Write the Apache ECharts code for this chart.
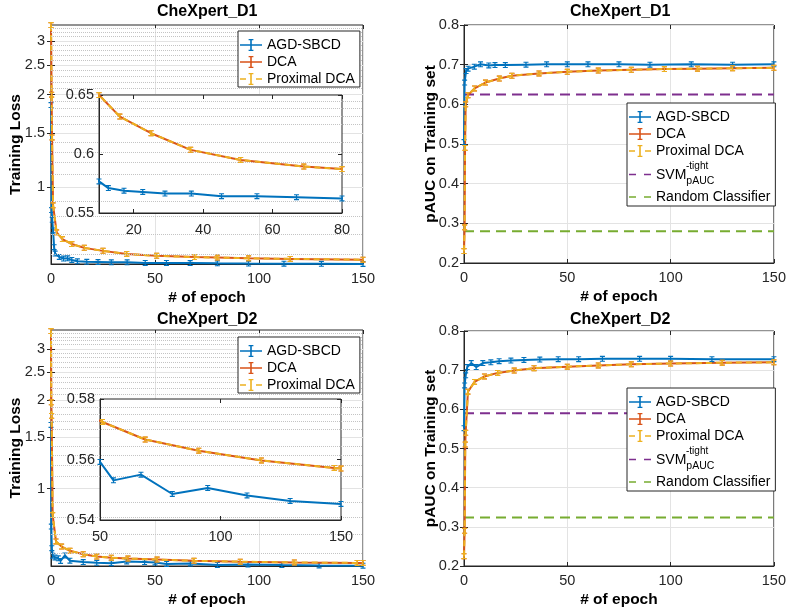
<!DOCTYPE html>
<html><head><meta charset="utf-8">
<script src="https://cdn.jsdelivr.net/npm/echarts@6/dist/echarts.min.js"></script>
<style>html,body{margin:0;padding:0;background:#fff}#c{width:789px;height:609px}</style>
</head><body><div id="c"></div>
<script>
// ---------- Titles / labels ----------
const titles = ['CheXpert_D1', 'CheXpert_D1', 'CheXpert_D2', 'CheXpert_D2'];
const seriesNames = ['AGD-SBCD', 'DCA', 'Proximal DCA', 'SVM', 'Random Classifier'];

// ---------- Training loss, CheXpert_D1 ----------
const agdEpochLossD1 = [0, 0.3, 0.6, 1, 1.5, 2, 4, 6, 8, 10, 12.7, 17.2, 22.6, 29, 36.6, 45.3, 55.5, 66.9, 80, 95, 112, 130, 150];
const agdLossD1 = [1.85, 0.84, 0.78, 0.72, 0.635, 0.605, 0.59, 0.583, 0.584, 0.5768, 0.5711, 0.5689, 0.5679, 0.5665, 0.5665, 0.5642, 0.5642, 0.5634, 0.5623, 0.5615, 0.5608, 0.5603, 0.5598];
const dcaEpochLossD1 = [0, 0.3, 0.5, 1, 2.7, 5.5, 10, 16, 25, 36.4, 50.8, 69, 80, 95, 115, 150];
const dcaLossD1 = [3.38, 2.0, 1.45, 0.87, 0.71, 0.675, 0.65, 0.6317, 0.6176, 0.6035, 0.595, 0.5894, 0.5872, 0.584, 0.5815, 0.578];
const proxLossD1 = [3.38, 2.0, 1.45, 0.87, 0.71, 0.675, 0.65, 0.6317, 0.6176, 0.6035, 0.595, 0.5894, 0.5872, 0.584, 0.5815, 0.578];

// ---------- Training loss, CheXpert_D2 ----------
const agdEpochLossD2 = [0, 0.15, 0.4, 0.8, 1.9, 3.5, 4.6, 6.7, 9.1, 15.5, 22, 29, 36.4, 45, 50, 55.6, 67, 80, 94.7, 111, 128.9, 150];
const agdLossD2 = [1.65, 0.742, 0.626, 0.59, 0.582, 0.578, 0.566, 0.591, 0.567, 0.561, 0.558, 0.556, 0.564, 0.561, 0.5592, 0.5531, 0.555, 0.5486, 0.5506, 0.5481, 0.5463, 0.5453];
const dcaEpochLossD2 = [0, 0.15, 0.3, 0.8, 2.4, 5.1, 9.1, 15.5, 22, 29, 37, 51, 68.75, 91, 117, 147.2, 150];
const dcaLossD2 = [3.45, 1.97, 1.77, 0.812, 0.66, 0.634, 0.613, 0.597, 0.586, 0.581, 0.577, 0.5724, 0.5666, 0.5629, 0.5597, 0.5572, 0.557];
const proxLossD2 = [3.45, 1.97, 1.77, 0.812, 0.66, 0.634, 0.613, 0.597, 0.586, 0.581, 0.577, 0.5724, 0.5666, 0.5629, 0.5597, 0.5572, 0.557];

// ---------- pAUC on training set, CheXpert_D1 ----------
const agdEpochAucD1 = [0, 0.3, 1, 2, 5, 8, 12, 15, 20, 30, 40, 50, 60, 75, 90, 110, 130, 150];
const agdAucD1 = [0.505, 0.655, 0.684, 0.69, 0.695, 0.701, 0.698, 0.699, 0.699, 0.700, 0.701, 0.701, 0.701, 0.701, 0.700, 0.701, 0.700, 0.701];
const dcaEpochAucD1 = [0, 0.3, 0.5, 0.8, 1.9, 5.1, 10.4, 17.1, 23.2, 36.3, 50, 65, 81, 97, 113, 130, 150];
const dcaAucD1 = [0.23, 0.29, 0.49, 0.60, 0.623, 0.64, 0.655, 0.665, 0.672, 0.678, 0.682, 0.685, 0.687, 0.689, 0.690, 0.691, 0.692];
const proxAucD1 = [0.23, 0.29, 0.49, 0.60, 0.623, 0.64, 0.655, 0.665, 0.672, 0.678, 0.682, 0.685, 0.687, 0.689, 0.690, 0.691, 0.692];
const svmAucD1 = 0.625;
const randAucD1 = 0.28;

// ---------- pAUC on training set, CheXpert_D2 ----------
const agdEpochAucD2 = [0, 0.3, 0.8, 1.6, 3.5, 5.9, 9.1, 13, 17, 22.7, 29, 36.7, 45.6, 55.5, 67, 85, 100, 120, 150];
const agdAucD2 = [0.552, 0.661, 0.687, 0.708, 0.718, 0.708, 0.718, 0.720, 0.723, 0.7246, 0.726, 0.727, 0.728, 0.728, 0.729, 0.729, 0.729, 0.728, 0.728];
const dcaEpochAucD2 = [0, 0.3, 0.6, 0.8, 1.9, 5.1, 9.9, 16.3, 24.3, 33.9, 50, 65, 81, 100, 125, 150];
const dcaAucD2 = [0.225, 0.29, 0.51, 0.54, 0.645, 0.67, 0.684, 0.693, 0.699, 0.705, 0.709, 0.712, 0.715, 0.717, 0.719, 0.72];
const proxAucD2 = [0.225, 0.29, 0.51, 0.54, 0.645, 0.67, 0.684, 0.693, 0.699, 0.705, 0.709, 0.712, 0.715, 0.717, 0.719, 0.72];
const svmAucD2 = 0.59;
const randAucD2 = 0.324;

// ---------- Axis ticks ----------
const lossTicks = [1, 1.5, 2, 2.5, 3];
const lossMinorD1 = [0.6, 0.7, 0.8, 0.9, 1.1, 1.2, 1.3, 1.4, 1.6, 1.7, 1.8, 1.9, 2.1, 2.2, 2.3, 2.4, 2.6, 2.7, 2.8, 2.9, 3.1, 3.2, 3.3];
const lossMinorD2 = [0.6, 0.7, 0.8, 0.9, 1.1, 1.2, 1.3, 1.4, 1.6, 1.7, 1.8, 1.9, 2.1, 2.2, 2.3, 2.4, 2.6, 2.7, 2.8, 2.9, 3.1, 3.2, 3.3, 3.4];
const insetD1Ticks = [20, 40, 60, 80];
const epochRange = [0, 150];

// ---------- Styling ----------
const COL = {agd: '#0072BD', dca: '#D95319', prox: '#EDB120', svm: '#7E2F8E', rand: '#77AC30'};
const AX = '#262626';
const FONT = 'Liberation Sans';
const MARK = 'path://M0,0H6V1.5H3.75V6.5H6V8H0V6.5H2.25V1.5H0Z';
const ICON_ERR = 'path://M0,5.2H22V6.8H0Z M10.2,0H11.8V12H10.2Z M8.6,0H13.4V1.3H8.6Z M8.6,10.7H13.4V12H8.6Z';
const ICON_ERR_DASH = 'path://M0,5.2H6V6.8H0Z M16,5.2H22V6.8H16Z M10.2,0H11.8V12H10.2Z M8.6,0H13.4V1.3H8.6Z M8.6,10.7H13.4V12H8.6Z';
const ICON_DASH = 'path://M0,5.2H7V6.8H0Z M15,5.2H22V6.8H15Z';

function pairs(xs, ys) { return xs.map((x, i) => [x, ys[i]]); }

function curve(name, xs, ys, color, idx, dashed, z) {
  return {
    type: 'line', name, xAxisIndex: idx, yAxisIndex: idx, data: pairs(xs, ys),
    symbol: MARK, symbolSize: [5, 6], showSymbol: true, showAllSymbol: true,
    itemStyle: {color}, lineStyle: {color, width: 2, type: dashed ? [6, 4] : 'solid'},
    z, animation: false, clip: true, silent: true
  };
}
function hline(name, value, color, idx) {
  return {
    type: 'line', name, xAxisIndex: idx, yAxisIndex: idx,
    data: [[epochRange[0], value], [epochRange[1], value]],
    symbol: 'none', itemStyle: {color}, lineStyle: {color, width: 2, type: [10, 6]},
    z: 2, animation: false, silent: true
  };
}
function minorGrid(idx, vals) {
  return {
    type: 'line', name: '_minor' + idx, xAxisIndex: idx, yAxisIndex: idx, data: [],
    z: 1, silent: true, animation: false,
    markLine: {silent: true, symbol: 'none', animation: false, label: {show: false},
      lineStyle: {type: 'dotted', color: '#c4c4c4', width: 1},
      data: vals.map(v => ({yAxis: v}))}
  };
}

const labelStyle = {color: AX, fontSize: 14.5, fontFamily: FONT};
const nameStyle = {color: '#000', fontSize: 15.5, fontWeight: 'bold', fontFamily: FONT};
const gridLine = {show: true, lineStyle: {color: '#e3e3e3', width: 1}};
const tickStyle = {inside: true, length: 4, lineStyle: {color: AX}};

function mainX(idx) {
  return {type: 'value', gridIndex: idx, min: epochRange[0], max: epochRange[1], interval: 50,
    name: '# of epoch', nameLocation: 'middle', nameGap: 26, nameTextStyle: nameStyle,
    axisLine: {lineStyle: {color: AX}}, axisTick: tickStyle,
    axisLabel: Object.assign({margin: 7}, labelStyle), splitLine: gridLine};
}
function lossY(idx, min, max) {
  return {type: 'log', gridIndex: idx, min, max, logBase: 10,
    name: 'Training Loss', nameLocation: 'middle', nameGap: 27, nameMoveOverlap: false, nameTextStyle: nameStyle,
    axisLine: {show: true, lineStyle: {color: AX}},
    axisTick: Object.assign({show: true, customValues: lossTicks}, tickStyle),
    axisLabel: Object.assign({margin: 6, customValues: lossTicks}, labelStyle),
    splitLine: gridLine, minorTick: {show: false}, minorSplitLine: {show: false}};
}
function aucY(idx) {
  return {type: 'value', gridIndex: idx, min: 0.2, max: 0.8, interval: 0.1,
    name: 'pAUC on Training set', nameLocation: 'middle', nameGap: 25, nameMoveOverlap: false, nameTextStyle: nameStyle,
    axisLine: {show: true, lineStyle: {color: AX}},
    axisTick: Object.assign({show: true}, tickStyle),
    axisLabel: Object.assign({margin: 5}, labelStyle), splitLine: gridLine};
}
// mirrored tick axes (top / right) like a boxed plot
function mirror(base, pos) {
  return Object.assign({}, base, {position: pos, name: '', axisLine: {show: false},
    axisLabel: {show: false}, splitLine: {show: false},
    axisTick: Object.assign({}, base.axisTick, {show: true, inside: true})});
}

const legendBase = {
  orient: 'vertical', itemWidth: 22, itemHeight: 12, itemGap: 3,
  borderColor: AX, borderWidth: 1, backgroundColor: '#fff', z: 20,
  selectedMode: false,
  textStyle: {fontSize: 14, color: '#000', fontFamily: FONT,
    rich: {
      p: {width: 30, fontSize: 10, lineHeight: 8, height: 8, fontFamily: FONT},
      sup: {fontSize: 10, lineHeight: 8, height: 8, fontFamily: FONT, color: '#000', verticalAlign: 'bottom'},
      m: {fontSize: 14, height: 10, lineHeight: 10, fontFamily: FONT, color: '#000', verticalAlign: 'top'},
      sub: {fontSize: 10.5, lineHeight: 17, fontFamily: FONT, color: '#000', verticalAlign: 'bottom'}
    }},
  formatter: n => n === 'SVM' ? '{p| }{sup|-tight}\n{m|SVM}{sub|pAUC}' : n
};
const leg3 = [
  {name: seriesNames[0], icon: ICON_ERR},
  {name: seriesNames[1], icon: ICON_ERR},
  {name: seriesNames[2], icon: ICON_ERR_DASH}
];
const leg5 = leg3.concat([
  {name: seriesNames[3], icon: ICON_DASH},
  {name: seriesNames[4], icon: ICON_DASH}
]);

const xAxes = [
  mainX(0),
  {type: 'value', gridIndex: 1, min: 10, max: 80, z: 6,
    axisLine: {lineStyle: {color: AX}},
    axisTick: Object.assign({customValues: insetD1Ticks}, tickStyle),
    axisLabel: Object.assign({margin: 9, customValues: insetD1Ticks}, labelStyle), splitLine: {show: false}},
  mainX(2),
  mainX(3),
  {type: 'value', gridIndex: 4, min: 50, max: 150, interval: 50, z: 6,
    axisLine: {lineStyle: {color: AX}},
    axisTick: tickStyle,
    axisLabel: Object.assign({margin: 9}, labelStyle), splitLine: {show: false}},
  mainX(5)
];
const yAxes = [
  lossY(0, 0.5595, 3.38),
  {type: 'value', gridIndex: 1, min: 0.55, max: 0.65, interval: 0.05, z: 6,
    axisLine: {show: true, lineStyle: {color: AX}},
    axisTick: Object.assign({show: true}, tickStyle),
    axisLabel: Object.assign({margin: 5}, labelStyle), splitLine: {show: false}},
  aucY(2),
  lossY(3, 0.544, 3.48),
  {type: 'value', gridIndex: 4, min: 0.54, max: 0.58, interval: 0.02, z: 6,
    axisLine: {show: true, lineStyle: {color: AX}},
    axisTick: Object.assign({show: true}, tickStyle),
    axisLabel: Object.assign({margin: 5}, labelStyle), splitLine: {show: false}},
  aucY(5)
];
const xMirror = xAxes.map(a => mirror(a, 'top'));
const yMirror = yAxes.map(a => mirror(a, 'right'));

const option = {
  animation: false,
  backgroundColor: '#fff',
  textStyle: {fontFamily: FONT},
  title: [
    {text: titles[0], left: 157, top: 4},
    {text: titles[1], left: 570, top: 4},
    {text: titles[2], left: 157, top: 312},
    {text: titles[3], left: 570, top: 312}
  ].map(t => Object.assign(t, {padding: 0, textStyle: {fontSize: 16, fontWeight: 'bold', color: '#000', fontFamily: FONT}})),
  grid: [
    {left: 51, top: 25, width: 312, height: 239, show: true, borderColor: AX, borderWidth: 1, backgroundColor: '#fff', z: 0},
    {left: 99, top: 95, width: 243, height: 118, show: true, borderColor: AX, borderWidth: 1, backgroundColor: '#fff', z: 5},
    {left: 464, top: 25, width: 312, height: 238, show: true, borderColor: AX, borderWidth: 1, backgroundColor: '#fff', z: 0},
    {left: 51, top: 330, width: 312, height: 238, show: true, borderColor: AX, borderWidth: 1, backgroundColor: '#fff', z: 0},
    {left: 100, top: 399, width: 241, height: 121, show: true, borderColor: AX, borderWidth: 1, backgroundColor: '#fff', z: 5},
    {left: 464, top: 331, width: 312, height: 238, show: true, borderColor: AX, borderWidth: 1, backgroundColor: '#fff', z: 0}
  ],
  xAxis: xAxes.concat(xMirror),
  yAxis: yAxes.concat(yMirror),
  legend: [
    Object.assign({}, legendBase, {left: 238, top: 31, padding: [7, 5, 1, 2], data: leg3}),
    Object.assign({}, legendBase, {left: 627, top: 103, padding: [7, 5, 2, 2], data: leg5}),
    Object.assign({}, legendBase, {left: 238, top: 337, padding: [7, 5, 1, 2], data: leg3}),
    Object.assign({}, legendBase, {left: 627, top: 388, padding: [7, 5, 2, 2], data: leg5})
  ],
  series: [
    // top-left main
    minorGrid(0, lossMinorD1),
    curve(seriesNames[0], agdEpochLossD1, agdLossD1, COL.agd, 0, false, 2),
    curve(seriesNames[1], dcaEpochLossD1, dcaLossD1, COL.dca, 0, false, 3),
    curve(seriesNames[2], dcaEpochLossD1, proxLossD1, COL.prox, 0, true, 4),
    // top-left inset
    curve(seriesNames[0], agdEpochLossD1, agdLossD1, COL.agd, 1, false, 7),
    curve(seriesNames[1], dcaEpochLossD1, dcaLossD1, COL.dca, 1, false, 8),
    curve(seriesNames[2], dcaEpochLossD1, proxLossD1, COL.prox, 1, true, 9),
    // top-right
    hline(seriesNames[3], svmAucD1, COL.svm, 2),
    hline(seriesNames[4], randAucD1, COL.rand, 2),
    curve(seriesNames[0], agdEpochAucD1, agdAucD1, COL.agd, 2, false, 3),
    curve(seriesNames[1], dcaEpochAucD1, dcaAucD1, COL.dca, 2, false, 3),
    curve(seriesNames[2], dcaEpochAucD1, proxAucD1, COL.prox, 2, true, 4),
    // bottom-left main
    minorGrid(3, lossMinorD2),
    curve(seriesNames[0], agdEpochLossD2, agdLossD2, COL.agd, 3, false, 2),
    curve(seriesNames[1], dcaEpochLossD2, dcaLossD2, COL.dca, 3, false, 3),
    curve(seriesNames[2], dcaEpochLossD2, proxLossD2, COL.prox, 3, true, 4),
    // bottom-left inset
    curve(seriesNames[0], agdEpochLossD2, agdLossD2, COL.agd, 4, false, 7),
    curve(seriesNames[1], dcaEpochLossD2, dcaLossD2, COL.dca, 4, false, 8),
    curve(seriesNames[2], dcaEpochLossD2, proxLossD2, COL.prox, 4, true, 9),
    // bottom-right
    hline(seriesNames[3], svmAucD2, COL.svm, 5),
    hline(seriesNames[4], randAucD2, COL.rand, 5),
    curve(seriesNames[0], agdEpochAucD2, agdAucD2, COL.agd, 5, false, 3),
    curve(seriesNames[1], dcaEpochAucD2, dcaAucD2, COL.dca, 5, false, 3),
    curve(seriesNames[2], dcaEpochAucD2, proxAucD2, COL.prox, 5, true, 4)
  ]
};

const chart = echarts.init(document.getElementById('c'), null, {renderer: 'canvas'});
chart.setOption(option);
</script></body></html>
